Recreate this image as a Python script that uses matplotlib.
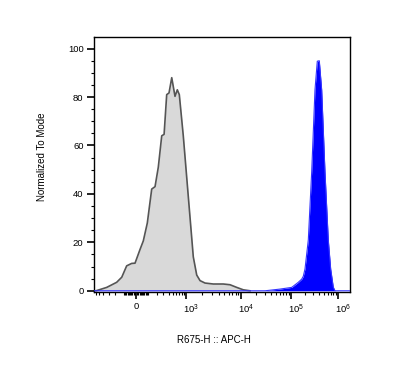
import numpy as np
import matplotlib
matplotlib.use("Agg")
import matplotlib.pyplot as plt
from matplotlib.transforms import ScaledTranslation

plt.rcParams['font.family'] = ['Liberation Sans', 'DejaVu Sans']
plt.rcParams['mathtext.fontset'] = 'custom'
plt.rcParams['mathtext.rm'] = 'Liberation Sans'
plt.rcParams['mathtext.it'] = 'Liberation Sans'
plt.rcParams['mathtext.default'] = 'regular'

# ---- data ----
gray_x = [-594, -333, -182, -125, -78, -35, -8, 32, 60, 96, 140, 178, 220, 271, 311,
          360, 409, 474, 564, 637, 707, 869, 1101, 1360, 1570, 1804, 2223, 3144,
          4774, 6317, 8358, 11120, 15150]
gray_y = [0, 1.4, 3.5, 5.6, 10.3, 11.3, 11.4, 17, 20.6, 28, 42, 43, 51, 64, 64.6,
          81, 81.7, 88, 80.3, 83, 81, 64, 39, 14, 6.5, 4.2, 3.2, 2.8,
          2.8, 2.5, 1.4, 0.4, 0]

blue_x = [-661, 30200, 60200, 103300, 142800, 168600, 182500, 198300, 233200, 275200,
          323600, 362300, 399600, 449200, 528400, 621300, 698400, 793800, 862700, 1.8e6]
blue_y = [0, 0, 0.7, 1.4, 3.5, 4.8, 6, 9, 21, 49,
          83, 94.8, 95, 83, 49, 21, 9, 1.5, 0, 0]

major_ticks = [0, 1e3, 1e4, 1e5, 1e6]
major_labels = ['0', r'$10^3$', r'$10^4$', r'$10^5$', r'$10^6$']

xlabel = 'R675-H :: APC-H'
ylabel = 'Normalized To Mode'

# ---- custom biexponential-like axis transform ----
C = 158.0
U_ANCH = np.array([-20.0, 0.0, 2.545, 4.841, 7.143, 9.446, 20.0])
P_ANCH = np.array([-20.0 * 19.65, 0.0, 50.0, 105.0, 155.0, 202.0, 202.0 + (20 - 9.446) * 20.4])


def fwd(v):
    v = np.asarray(v, dtype=float)
    return np.interp(np.arcsinh(v / C), U_ANCH, P_ANCH)


def inv(p):
    p = np.asarray(p, dtype=float)
    return C * np.sinh(np.interp(p, P_ANCH, U_ANCH))


fig = plt.figure(figsize=(4.0, 3.87), dpi=100)
ax = fig.add_axes([94 / 400, 1 - 292 / 387, 256 / 400, 255 / 387])
ax.set_xscale('function', functions=(fwd, inv))

ax.fill_between(gray_x, gray_y, 0, color='#d9d9d9', lw=0, zorder=2)
ax.plot(gray_x, gray_y, color='#555555', lw=1.2, zorder=3)
ax.fill_between(blue_x, blue_y, 0, color='#0000ff', lw=0, zorder=4)
ax.plot(blue_x, blue_y, color='#3333ff', lw=0.8, zorder=5)

ax.set_xlim(-661, 1.8e6)
ax.set_ylim(-0.5, 104.8)

ax.set_xticks(major_ticks)
ax.set_xticklabels(major_labels)
minor = []
for n in (1, 2):
    for k in range(1, 10):
        minor += [k * 10 ** n, -k * 10 ** n]
for n in (3, 4, 5):
    for k in range(2, 10):
        minor.append(k * 10 ** n)
minor = [m for m in minor if -661 < m < 1.8e6]
ax.set_xticks(minor, minor=True)

ax.set_yticks(np.arange(0, 101, 20))
ax.set_yticks(np.arange(0, 101, 5), minor=True)

ax.tick_params(axis='both', which='major', length=5, width=1.2, labelsize=6.8, pad=2.5, direction='out')
ax.tick_params(axis='both', which='minor', length=2.5, width=0.8, direction='out')
for s in ax.spines.values():
    s.set_linewidth(1.0)
    s.set_color('black')

off = ScaledTranslation(5 / 100, 0, fig.dpi_scale_trans)
for lab in ax.get_xticklabels()[1:]:
    lab.set_transform(lab.get_transform() + off)

ax.set_xlabel(xlabel, fontsize=7)
ax.xaxis.set_label_coords((214 - 94) / 256, -(335 - 292) / 255)
ax.set_ylabel(ylabel, fontsize=7)
ax.yaxis.set_label_coords(-(94 - 47) / 256, (292 - 157) / 255)

fig.savefig('out.png', dpi=100)
